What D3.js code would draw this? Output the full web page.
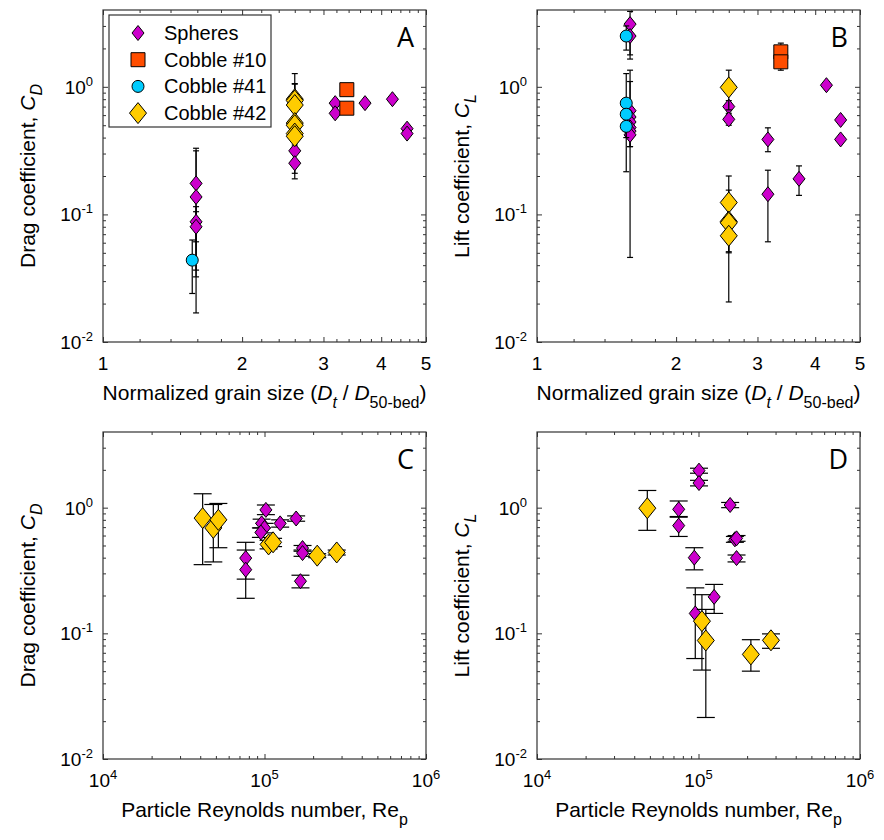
<!DOCTYPE html>
<html>
<head>
<meta charset="utf-8">
<script src="https://cdn.jsdelivr.net/npm/d3@7"></script>
<style>
  body { margin: 0; background: #fff; }
  text { font-family: "Liberation Sans", Arial, sans-serif; fill: #000; }
  .letter { font-family: "Open Sans", sans-serif; }
</style>
</head>
<body>
<script>
const svgWidth = 884
const svgHeight = 840

// tick labels
const grainTicks = [1, 2, 3, 4, 5]
const reTicks = [1e4, 1e5, 1e6]
const coefTicks = [1e-2, 1e-1, 1e0]

// panel A : drag vs grain size   {x, y, lo, hi}
const spheresDragGrain = [
  {x: 1.59, y: 0.175, lo: 0.0324, hi: 0.33},
  {x: 1.59, y: 0.137, lo: 0.0366, hi: 0.315},
  {x: 1.59, y: 0.0875, lo: 0.061, hi: 0.115},
  {x: 1.59, y: 0.080, lo: 0.0169, hi: 0.105},
  {x: 2.60, y: 0.315, lo: 0.21, hi: 0.42},
  {x: 2.60, y: 0.252, lo: 0.19, hi: 0.33},
  {x: 3.18, y: 0.745, lo: 0.70, hi: 0.79},
  {x: 3.18, y: 0.62, lo: 0.58, hi: 0.67},
  {x: 3.69, y: 0.745, lo: 0.72, hi: 0.77},
  {x: 4.23, y: 0.80, lo: 0.78, hi: 0.82},
  {x: 4.55, y: 0.47, lo: 0.45, hi: 0.49},
  {x: 4.55, y: 0.43, lo: 0.41, hi: 0.45}
]
const cobble10DragGrain = [
  {x: 3.37, y: 0.95, lo: 0.92, hi: 0.98},
  {x: 3.37, y: 0.68, lo: 0.65, hi: 0.71}
]
const cobble41DragGrain = [
  {x: 1.56, y: 0.0438, lo: 0.024, hi: 0.063}
]
const cobble42DragGrain = [
  {x: 2.60, y: 0.80, lo: 0.35, hi: 1.27},
  {x: 2.60, y: 0.78, lo: 0.48, hi: 1.06},
  {x: 2.60, y: 0.72, lo: 0.37, hi: 1.05},
  {x: 2.60, y: 0.52, lo: 0.47, hi: 0.57},
  {x: 2.60, y: 0.50, lo: 0.46, hi: 0.55},
  {x: 2.60, y: 0.43, lo: 0.41, hi: 0.45},
  {x: 2.60, y: 0.41, lo: 0.39, hi: 0.43}
]

// panel B : lift vs grain size
const spheresLiftGrain = [
  {x: 1.59, y: 3.1, lo: 1.78, hi: 3.9},
  {x: 1.59, y: 2.5, lo: 1.65, hi: 3.2},
  {x: 1.59, y: 0.65, lo: 0.34, hi: 1.35},
  {x: 1.59, y: 0.58, lo: 0.046, hi: 1.1},
  {x: 1.59, y: 0.53, lo: 0.47, hi: 0.60},
  {x: 1.59, y: 0.48, lo: 0.43, hi: 0.53},
  {x: 1.59, y: 0.45, lo: 0.40, hi: 0.50},
  {x: 1.59, y: 0.42, lo: 0.34, hi: 0.47},
  {x: 2.60, y: 0.70, lo: 0.62, hi: 0.78},
  {x: 2.60, y: 0.556, lo: 0.50, hi: 0.60},
  {x: 3.16, y: 0.387, lo: 0.31, hi: 0.477},
  {x: 3.16, y: 0.144, lo: 0.061, hi: 0.222},
  {x: 3.69, y: 0.19, lo: 0.141, hi: 0.24},
  {x: 4.23, y: 1.03, lo: 1.0, hi: 1.06},
  {x: 4.54, y: 0.55, lo: 0.53, hi: 0.57},
  {x: 4.54, y: 0.387, lo: 0.37, hi: 0.40}
]
const cobble10LiftGrain = [
  {x: 3.37, y: 1.88, lo: 1.6, hi: 2.2},
  {x: 3.37, y: 1.57, lo: 1.35, hi: 1.8}
]
const cobble41LiftGrain = [
  {x: 1.56, y: 2.5, lo: 1.94, hi: 3.0},
  {x: 1.56, y: 0.745, lo: 0.216, hi: 1.27},
  {x: 1.56, y: 0.61, lo: 0.50, hi: 0.72},
  {x: 1.56, y: 0.49, lo: 0.40, hi: 0.60}
]
const cobble42LiftGrain = [
  {x: 2.60, y: 0.99, lo: 0.66, hi: 1.35},
  {x: 2.60, y: 0.124, lo: 0.051, hi: 0.20},
  {x: 2.60, y: 0.088, lo: 0.076, hi: 0.099},
  {x: 2.60, y: 0.086, lo: 0.0206, hi: 0.155},
  {x: 2.60, y: 0.068, lo: 0.05, hi: 0.089}
]

// panel C : drag vs particle Reynolds number
const spheresDragRe = [
  {x: 76500, y: 0.397, lo: 0.27, hi: 0.53},
  {x: 76500, y: 0.321, lo: 0.19, hi: 0.46},
  {x: 96000, y: 0.75, lo: 0.69, hi: 0.81},
  {x: 100000, y: 0.69, lo: 0.63, hi: 0.75},
  {x: 95000, y: 0.635, lo: 0.58, hi: 0.69},
  {x: 102000, y: 0.96, lo: 0.88, hi: 1.05},
  {x: 125000, y: 0.75, lo: 0.70, hi: 0.80},
  {x: 157000, y: 0.82, lo: 0.78, hi: 0.86},
  {x: 172000, y: 0.477, lo: 0.45, hi: 0.50},
  {x: 172000, y: 0.435, lo: 0.41, hi: 0.46},
  {x: 167000, y: 0.26, lo: 0.23, hi: 0.29}
]
const cobble42DragRe = [
  {x: 41400, y: 0.826, lo: 0.352, hi: 1.29},
  {x: 48200, y: 0.69, lo: 0.37, hi: 1.06},
  {x: 51800, y: 0.80, lo: 0.48, hi: 1.08},
  {x: 106000, y: 0.51, lo: 0.47, hi: 0.55},
  {x: 113000, y: 0.53, lo: 0.49, hi: 0.57},
  {x: 212000, y: 0.415, lo: 0.40, hi: 0.43},
  {x: 280000, y: 0.44, lo: 0.42, hi: 0.46}
]

// panel D : lift vs particle Reynolds number
const spheresLiftRe = [
  {x: 100700, y: 1.97, lo: 1.88, hi: 2.06},
  {x: 100700, y: 1.57, lo: 1.49, hi: 1.65},
  {x: 75400, y: 0.97, lo: 0.84, hi: 1.13},
  {x: 75400, y: 0.72, lo: 0.59, hi: 0.85},
  {x: 157000, y: 1.05, lo: 1.0, hi: 1.1},
  {x: 168000, y: 0.56, lo: 0.53, hi: 0.59},
  {x: 172000, y: 0.57, lo: 0.54, hi: 0.60},
  {x: 172000, y: 0.397, lo: 0.37, hi: 0.42},
  {x: 94200, y: 0.40, lo: 0.32, hi: 0.48},
  {x: 125000, y: 0.195, lo: 0.144, hi: 0.245},
  {x: 95500, y: 0.144, lo: 0.063, hi: 0.23}
]
const cobble42LiftRe = [
  {x: 48200, y: 0.99, lo: 0.66, hi: 1.37},
  {x: 105000, y: 0.125, lo: 0.051, hi: 0.203},
  {x: 111000, y: 0.0877, lo: 0.0214, hi: 0.155},
  {x: 211000, y: 0.068, lo: 0.05, hi: 0.089},
  {x: 281000, y: 0.088, lo: 0.076, hi: 0.099}
]

const legendNames = ["Spheres", "Cobble #10", "Cobble #41", "Cobble #42"]

// marker styles
const styles = {
  spheres: {shape: "diamond", w: 6, h: 7.5, fill: "#cc00cc"},
  c10: {shape: "square", w: 7, h: 7, fill: "#ff4d00"},
  c41: {shape: "circle", w: 6, h: 6, fill: "#00ccff"},
  c42: {shape: "diamond", w: 8.5, h: 10.5, fill: "#ffcc00"}
}

const panels = [
  {letter: "A", left: 103, top: 10, w: 323, h: 332, kind: "grain", coef: "D", cap: 3,
   series: [["spheres", spheresDragGrain], ["c10", cobble10DragGrain], ["c41", cobble41DragGrain], ["c42", cobble42DragGrain]]},
  {letter: "B", left: 537, top: 10, w: 323, h: 332, kind: "grain", coef: "L", cap: 3,
   series: [["spheres", spheresLiftGrain], ["c10", cobble10LiftGrain], ["c41", cobble41LiftGrain], ["c42", cobble42LiftGrain]]},
  {letter: "C", left: 103, top: 432, w: 323, h: 327, kind: "re", coef: "D", cap: 9,
   series: [["spheres", spheresDragRe], ["c42", cobble42DragRe]]},
  {letter: "D", left: 537, top: 432, w: 323, h: 327, kind: "re", coef: "L", cap: 9,
   series: [["spheres", spheresLiftRe], ["c42", cobble42LiftRe]]}
]

const svg = d3.select("body").append("svg")
  .attr("width", svgWidth)
  .attr("height", svgHeight)

function markerPath(s) {
  if (s.shape === "diamond") return `M0,${-s.h}L${s.w},0L0,${s.h}L${-s.w},0Z`
  if (s.shape === "square") return `M${-s.w},${-s.h}H${s.w}V${s.h}H${-s.w}Z`
  return d3.arc()({innerRadius: 0, outerRadius: s.w, startAngle: 0, endAngle: 2 * Math.PI})
}

function logMinor(lo, hi) {
  const out = []
  for (let e = Math.floor(Math.log10(lo)); e < Math.ceil(Math.log10(hi)); e++) {
    for (let k = 2; k <= 9; k++) {
      const v = k * Math.pow(10, e)
      if (v > lo && v < hi) out.push(v)
    }
  }
  return out
}

panels.forEach(p => {
  const x = d3.scaleLog()
    .domain(p.kind === "grain" ? [1, 5] : [1e4, 1e6])
    .range([p.left, p.left + p.w])
  const y = d3.scaleLog()
    .domain([0.01, 4])
    .range([p.top + p.h, p.top])

  const g = svg.append("g")
  const xMinor = p.kind === "grain"
    ? d3.range(1.2, 5, 0.2).filter(v => Math.abs(v - Math.round(v)) > 0.01)
    : logMinor(1e4, 1e6)
  const yMinor = logMinor(0.01, 4)
  const xMajor = p.kind === "grain" ? grainTicks : reTicks

  // ticks on all four sides, pointing inward
  const tickSets = [
    [d3.axisBottom(x), xMajor, xMinor, `translate(0,${p.top + p.h})`],
    [d3.axisTop(x), xMajor, xMinor, `translate(0,${p.top})`],
    [d3.axisLeft(y), coefTicks, yMinor, `translate(${p.left},0)`],
    [d3.axisRight(y), coefTicks, yMinor, `translate(${p.left + p.w},0)`]
  ]
  tickSets.forEach(([ax, major, minor, tr]) => {
    [[major, 5], [minor, 3]].forEach(([vals, len]) => {
      const a = g.append("g")
        .attr("transform", tr)
        .call(ax.tickValues(vals).tickSize(-len).tickFormat(""))
      a.select(".domain").remove()
      a.selectAll("line").attr("stroke", "#333").attr("stroke-width", 1)
    })
  })

  g.append("rect")
    .attr("x", p.left).attr("y", p.top)
    .attr("width", p.w).attr("height", p.h)
    .attr("fill", "none").attr("stroke", "#333").attr("stroke-width", 1.2)

  // y tick labels 10^n
  coefTicks.forEach(v => {
    const t = g.append("text")
      .attr("x", p.left - 10).attr("y", y(v) + 7)
      .attr("text-anchor", "end").attr("font-size", 19)
    t.append("tspan").text("10")
    t.append("tspan").attr("dy", -8).attr("font-size", 13).text(Math.round(Math.log10(v)))
  })

  // x tick labels
  xMajor.forEach(v => {
    const t = g.append("text")
      .attr("x", x(v)).attr("y", p.top + p.h + 28)
      .attr("text-anchor", "middle").attr("font-size", 19)
    if (p.kind === "grain") {
      t.text(v)
    } else {
      t.append("tspan").text("10")
      t.append("tspan").attr("dy", -8).attr("font-size", 13).text(Math.round(Math.log10(v)))
    }
  })

  // axis labels
  const yl = g.append("text")
    .attr("transform", `translate(${p.left - 68},${p.top + p.h / 2}) rotate(-90)`)
    .attr("text-anchor", "middle").attr("font-size", 21)
  yl.append("tspan").text(p.coef === "D" ? "Drag coefficient, " : "Lift coefficient, ")
  yl.append("tspan").attr("font-style", "italic").text("C")
  yl.append("tspan").attr("font-style", "italic").attr("font-size", 16).attr("dy", 7).text(p.coef)

  const xl = g.append("text")
    .attr("x", p.left + p.w / 2).attr("y", p.top + p.h + 58)
    .attr("text-anchor", "middle").attr("font-size", 21)
  if (p.kind === "grain") {
    xl.append("tspan").text("Normalized grain size (")
    xl.append("tspan").attr("font-style", "italic").text("D")
    xl.append("tspan").attr("font-style", "italic").attr("font-size", 16).attr("dy", 8).text("t")
    xl.append("tspan").attr("dy", -8).text(" / ")
    xl.append("tspan").attr("font-style", "italic").text("D")
    xl.append("tspan").attr("font-size", 16).attr("dy", 8).text("50-bed")
    xl.append("tspan").attr("dy", -8).text(")")
  } else {
    xl.append("tspan").text("Particle Reynolds number, Re")
    xl.append("tspan").attr("font-size", 16).attr("dy", 8).text("p")
  }

  // panel letter
  g.append("text").attr("class", "letter")
    .attr("x", p.left + p.w - 12).attr("y", p.top + 37)
    .attr("text-anchor", "end").attr("font-size", 27)
    .text(p.letter)

  // series: error bars then markers, drawn in legend order
  const clip = "clip" + p.letter
  svg.append("clipPath").attr("id", clip).append("rect")
    .attr("x", p.left).attr("y", p.top).attr("width", p.w).attr("height", p.h)
  const plot = g.append("g").attr("clip-path", `url(#${clip})`)

  p.series.forEach(([key, data]) => {
    const s = styles[key]
    const sg = plot.append("g")
    const bars = sg.selectAll(".bar").data(data).enter().append("g")
      .attr("stroke", "#000").attr("stroke-width", 1.2)
    bars.append("line")
      .attr("x1", d => x(d.x)).attr("x2", d => x(d.x))
      .attr("y1", d => y(d.lo)).attr("y2", d => y(d.hi))
    bars.append("line")
      .attr("x1", d => x(d.x) - p.cap).attr("x2", d => x(d.x) + p.cap)
      .attr("y1", d => y(d.lo)).attr("y2", d => y(d.lo))
    bars.append("line")
      .attr("x1", d => x(d.x) - p.cap).attr("x2", d => x(d.x) + p.cap)
      .attr("y1", d => y(d.hi)).attr("y2", d => y(d.hi))
    sg.selectAll(".mk").data(data).enter().append("path")
      .attr("d", markerPath(s))
      .attr("transform", d => `translate(${x(d.x)},${y(d.y)})`)
      .attr("fill", s.fill).attr("stroke", "#000").attr("stroke-width", 1)
  })
})

// legend in panel A
const leg = svg.append("g")
leg.append("rect")
  .attr("x", 109).attr("y", 15).attr("width", 162).attr("height", 112)
  .attr("fill", "#fff").attr("stroke", "#333").attr("stroke-width", 1.2)
const legKeys = ["spheres", "c10", "c41", "c42"]
legendNames.forEach((name, i) => {
  const cy = 33 + i * 26.7
  leg.append("path")
    .attr("d", markerPath(styles[legKeys[i]]))
    .attr("transform", `translate(138,${cy})`)
    .attr("fill", styles[legKeys[i]].fill).attr("stroke", "#000")
  leg.append("text")
    .attr("x", 164).attr("y", cy + 7)
    .attr("font-size", 20)
    .text(name)
})
</script>
</body>
</html>
